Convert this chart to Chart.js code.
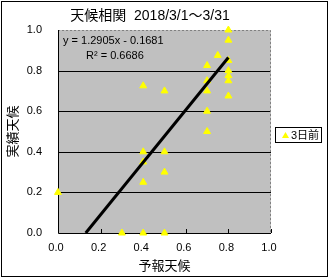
<!DOCTYPE html>
<html lang="ja">
<head>
<meta charset="utf-8">
<title>天候相関</title>
<script src="https://cdn.jsdelivr.net/npm/chart.js@4/dist/chart.umd.min.js"></script>
<style>
    html, body { margin: 0; padding: 0; background: #fff; }
    #wrap { width: 330px; height: 278px; }
</style>
</head>
<body>
<div id="wrap"><canvas id="tcChart" width="330" height="278"></canvas></div>
<script>
'use strict';

var tcTitle = '天候相関  2018/3/1～3/31';
var tcSeriesName = '3日前';
var tcXTitle = '予報天候';
var tcYTitle = '実績天候';

// 予報天候 (x) / 実績天候 (y)
var tcForecast = [0.0, 0.3, 0.4, 0.4, 0.4, 0.4, 0.4, 0.5, 0.5, 0.5, 0.5, 0.7, 0.7, 0.7, 0.7, 0.7, 0.75, 0.8, 0.8, 0.8, 0.8, 0.8, 0.8, 0.8];
var tcActual = [0.2, 0.0, 0.0, 0.25, 0.35, 0.4, 0.725, 0.0, 0.3, 0.4, 0.7, 0.5, 0.6, 0.7, 0.75, 0.825, 0.875, 0.675, 0.75, 0.775, 0.8, 0.85, 0.95, 1.0];

// 近似直線の両端
var tcTrendX = [0.1303, 0.8];
var tcTrendY = [0.0, 0.8643];
var tcEquation = 'y = 1.2905x - 0.1681';
var tcR2 = 'R² = 0.6686';

var tcTicks = [0, 0.2, 0.4, 0.6, 0.8, 1.0];

var TC_FONT = '"Liberation Sans", "Noto Sans CJK JP", sans-serif';

function tcPoints(xs, ys) {
    return xs.map(function (x, i) { return { x: x, y: ys[i] }; });
}

var tcDecor = {
    id: 'tcDecor',
    beforeDatasetsDraw: function (chart) {
        var ctx = chart.ctx;
        var a = chart.chartArea;
        ctx.save();
        ctx.fillStyle = '#C0C0C0';
        ctx.fillRect(a.left, a.top, a.right - a.left, a.bottom - a.top);
        // grid lines over the fill
        var ys = chart.scales.y;
        ctx.strokeStyle = '#000';
        ctx.lineWidth = 1;
        [0.2, 0.4, 0.6, 0.8].forEach(function (v) {
            var py = Math.round(ys.getPixelForValue(v)) + 0.5;
            ctx.beginPath();
            ctx.moveTo(a.left, py);
            ctx.lineTo(a.right, py);
            ctx.stroke();
        });
        // top / right border, dotted grey
        ctx.strokeStyle = '#808080';
        ctx.setLineDash([2, 2]);
        ctx.beginPath();
        ctx.moveTo(a.left, a.top + 0.5);
        ctx.lineTo(a.right - 0.5, a.top + 0.5);
        ctx.lineTo(a.right - 0.5, a.bottom);
        ctx.stroke();
        ctx.setLineDash([]);
        // left / bottom axis
        ctx.strokeStyle = '#000';
        ctx.beginPath();
        ctx.moveTo(a.left + 0.5, a.top);
        ctx.lineTo(a.left + 0.5, a.bottom + 0.5);
        ctx.lineTo(a.right, a.bottom + 0.5);
        ctx.stroke();
        // inner ticks on x axis
        var xs = chart.scales.x;
        tcTicks.forEach(function (v) {
            var px = Math.round(xs.getPixelForValue(v)) + 0.5;
            ctx.beginPath();
            ctx.moveTo(px, a.bottom);
            ctx.lineTo(px, a.bottom - 4);
            ctx.stroke();
        });
        ctx.restore();
    },
    afterDraw: function (chart) {
        var ctx = chart.ctx;
        ctx.save();
        // outer frame
        ctx.strokeStyle = '#000';
        ctx.lineWidth = 1;
        ctx.strokeRect(1.5, 1.5, 326, 275);

        // title
        ctx.fillStyle = '#000';
        ctx.font = '14px ' + TC_FONT;
        ctx.textAlign = 'center';
        ctx.textBaseline = 'middle';
        ctx.fillText(tcTitle, 150, 16);

        // regression text
        ctx.font = '11px ' + TC_FONT;
        ctx.textAlign = 'left';
        ctx.fillText(tcEquation, 63, 41);
        ctx.fillText(tcR2, 86, 56);

        // legend box
        ctx.fillStyle = '#fff';
        ctx.fillRect(275, 127, 47, 16);
        ctx.strokeRect(275.5, 127.5, 46, 15);
        ctx.fillStyle = '#FFFF00';
        ctx.beginPath();
        ctx.moveTo(285.5, 132);
        ctx.lineTo(289, 138);
        ctx.lineTo(282, 138);
        ctx.closePath();
        ctx.fill();
        ctx.fillStyle = '#000';
        ctx.font = '11px ' + TC_FONT;
        ctx.textBaseline = 'middle';
        ctx.fillText(tcSeriesName, 291, 135.5);
        ctx.restore();
    }
};

new Chart(document.getElementById('tcChart'), {
    type: 'scatter',
    data: {
        datasets: [{
            label: 'trend',
            type: 'line',
            data: tcPoints(tcTrendX, tcTrendY),
            borderColor: '#000',
            borderWidth: 3,
            pointRadius: 0,
            order: 0
        }, {
            label: tcSeriesName,
            data: tcPoints(tcForecast, tcActual),
            pointStyle: 'triangle',
            pointRadius: 4,
            backgroundColor: '#FFFF00',
            borderColor: '#FFFF00',
            borderWidth: 1,
            clip: false,
            order: 1
        }]
    },
    plugins: [tcDecor],
    options: {
        responsive: false,
        animation: false,
        devicePixelRatio: 1,
        layout: { padding: { left: 0, right: 59, top: 30, bottom: 0 } },
        plugins: {
            legend: { display: false },
            title: { display: false },
            tooltip: { enabled: false }
        },
        scales: {
            x: {
                type: 'linear',
                min: 0,
                max: 1,
                afterBuildTicks: function (s) { s.ticks = tcTicks.map(function (v) { return { value: v }; }); },
                afterFit: function (s) { s.height = 45; },
                grid: { display: false, drawTicks: false },
                border: { display: false },
                ticks: {
                    font: { family: TC_FONT, size: 11 },
                    color: '#000',
                    padding: 8,
                    labelOffset: -2,
                    maxRotation: 0,
                    callback: function (v) { return Number(v).toFixed(1); }
                },
                title: {
                    display: true,
                    text: tcXTitle,
                    font: { family: TC_FONT, size: 13 },
                    color: '#000',
                    padding: { top: 0, bottom: 4 }
                }
            },
            y: {
                type: 'linear',
                min: 0,
                max: 1,
                afterBuildTicks: function (s) { s.ticks = tcTicks.map(function (v) { return { value: v }; }); },
                afterFit: function (s) { s.width = 58; },
                grid: { display: false, drawTicks: false },
                border: { display: false },
                ticks: {
                    font: { family: TC_FONT, size: 11 },
                    color: '#000',
                    padding: 16,
                    callback: function (v) { return Number(v).toFixed(1); }
                },
                title: {
                    display: true,
                    text: tcYTitle,
                    font: { family: TC_FONT, size: 13 },
                    color: '#000',
                    padding: { top: 6, bottom: 0 }
                }
            }
        }
    }
});
</script>
</body>
</html>
